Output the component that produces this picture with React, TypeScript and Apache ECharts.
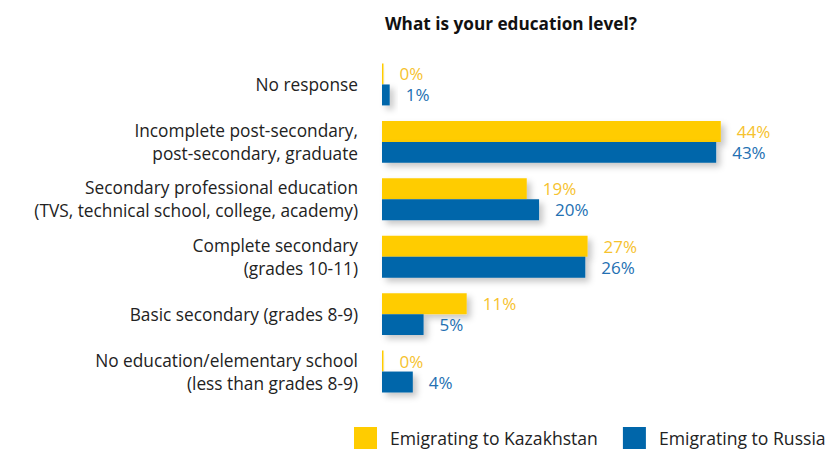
import React, { useEffect, useRef } from "react";
import * as echarts from "echarts";

const categories = [
  "No response",
  "Incomplete post-secondary,\npost-secondary, graduate",
  "Secondary professional education\n(TVS, technical school, college, academy)",
  "Complete secondary\n(grades 10-11)",
  "Basic secondary (grades 8-9)",
  "No education/elementary school\n(less than grades 8-9)",
];
const kazakhstan = [0, 44, 18.8, 26.7, 11, 0];
const russia = [1, 43.4, 20.4, 26.4, 5.4, 4];
const seriesNames = ["Emigrating to Kazakhstan", "Emigrating to Russia"];
const titleText = "What is your education level?";

const FONT = "Open Sans";
const YELLOW = "#FFCC00";
const BLUE = "#0066AA";
const YELLOW_TXT = "#F6C22E";
const BLUE_TXT = "#2370B2";

export default function App() {
  const ref = useRef<HTMLDivElement>(null);
  useEffect(() => {
    if (!ref.current) return;
    const chart = echarts.init(ref.current, null, { renderer: "svg" });
    const shadow = {
      shadowBlur: 6,
      shadowOffsetX: 4,
      shadowOffsetY: 4,
      shadowColor: "rgba(0,0,0,0.22)",
    };
    const labelCommon = {
      show: true,
      position: "right" as const,
      distance: 16,
      fontFamily: FONT,
      fontSize: 17,
      lineHeight: 18,
      formatter: (p: any) => Math.round(p.value) + "%",
    };
    chart.setOption({
      animation: false,
      backgroundColor: "#ffffff",
      title: {
        text: titleText,
        left: 380,
        top: 10,
        textStyle: { fontFamily: FONT, fontSize: 17.2, fontWeight: "bold", color: "#111" },
      },
      legend: {
        left: 349,
        top: 422,
        itemWidth: 23,
        itemHeight: 22,
        itemGap: 25,
        icon: "rect",
        textStyle: {
          fontFamily: FONT,
          fontSize: 17.6,
          lineHeight: 18,
          color: "#222",
          padding: [0, 0, 0, 8],
        },
        data: seriesNames,
      },
      grid: { left: 382, top: 55.75, width: 385, height: 344.5, containLabel: false },
      xAxis: {
        type: "value",
        min: 0,
        max: 50,
        show: false,
      },
      yAxis: {
        type: "category",
        inverse: true,
        data: categories,
        axisLine: { show: false },
        axisTick: { show: false },
        axisLabel: {
          margin: 24,
          fontFamily: FONT,
          fontSize: 17.3,
          color: "#222",
          lineHeight: 23,
          align: "right",
        },
      },
      series: [
        {
          name: seriesNames[0],
          type: "bar",
          data: kazakhstan,
          barGap: "0%",
          barCategoryGap: "27%",
          barMinHeight: 1.5,
          itemStyle: { color: YELLOW, ...shadow },
          label: { ...labelCommon, color: YELLOW_TXT },
        },
        {
          name: seriesNames[1],
          type: "bar",
          data: russia,
          barGap: "0%",
          barCategoryGap: "27%",
          itemStyle: { color: BLUE, ...shadow },
          label: { ...labelCommon, color: BLUE_TXT },
        },
      ],
    });
    return () => chart.dispose();
  }, []);
  return (
    <div
      ref={ref}
      style={{ position: "fixed", left: 0, top: 0, width: 833, height: 452 }}
    />
  );
}
